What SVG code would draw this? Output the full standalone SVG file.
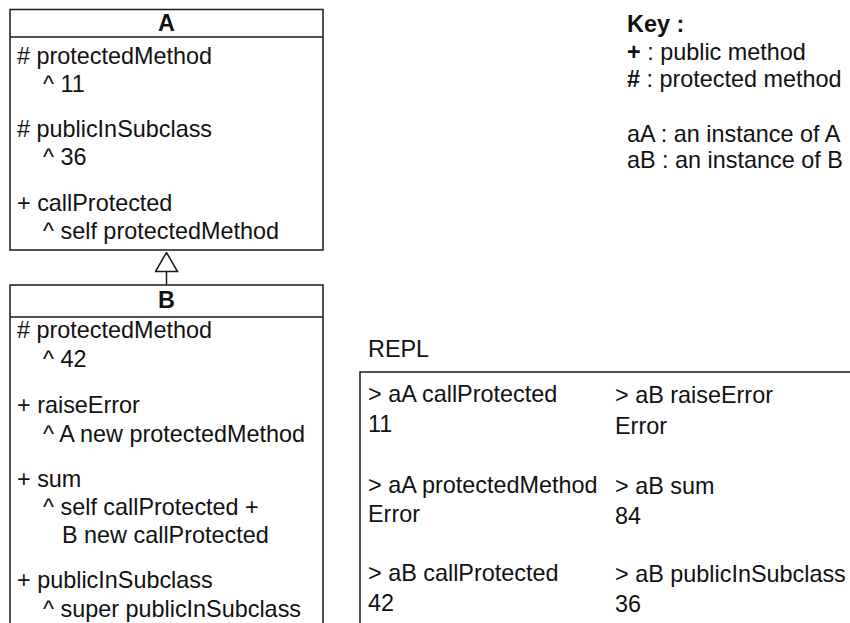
<svg xmlns="http://www.w3.org/2000/svg" width="850" height="623" viewBox="0 0 850 623">
<style>
text{font-family:"Liberation Sans",Arial,sans-serif;font-size:23.4px;fill:#111}
.b{font-weight:bold}
.box{fill:#fff;stroke:#1a1a1a;stroke-width:1.5}
.ln{stroke:#1a1a1a;stroke-width:1.5;fill:none}
</style>
<defs>
<marker id="tri" markerUnits="userSpaceOnUse" viewBox="-1 -1 21 24" refX="19" refY="11" markerWidth="21" markerHeight="24" orient="auto">
<path d="M0,0 L19,11 L0,22 Z" fill="#fff" stroke="#1a1a1a" stroke-width="1.5"/>
</marker>
</defs>
<rect width="850" height="623" fill="#fff"/>
<g id="classA">
<rect class="box" x="10" y="9.5" width="313" height="240.5"/>
<line class="ln" x1="10" y1="37" x2="323" y2="37"/>
<text class="b" x="166.5" y="30.5" text-anchor="middle">A</text>
<text x="17" y="64"># protectedMethod</text>
<text x="43" y="92">^ 11</text>
<text x="17" y="137"># publicInSubclass</text>
<text x="43" y="165">^ 36</text>
<text x="17" y="211">+ callProtected</text>
<text x="43" y="239">^ self protectedMethod</text>
</g>
<g id="classB">
<rect class="box" x="10" y="285" width="313" height="350"/>
<line class="ln" x1="10" y1="317" x2="323" y2="317"/>
<text class="b" x="166.5" y="307.5" text-anchor="middle">B</text>
<text x="17" y="338"># protectedMethod</text>
<text x="43" y="367">^ 42</text>
<text x="17" y="413">+ raiseError</text>
<text x="43" y="442">^ A new protectedMethod</text>
<text x="17" y="487">+ sum</text>
<text x="43" y="515">^ self callProtected +</text>
<text x="62" y="543">B new callProtected</text>
<text x="17" y="588">+ publicInSubclass</text>
<text x="43" y="617">^ super publicInSubclass</text>
</g>
<g id="connectors">
<path class="ln" d="M166.5,285 L166.5,252.5" marker-end="url(#tri)"/>
</g>
<g id="key">
<text class="b" x="627" y="31.5">Key :</text>
<text x="627" y="59.5"><tspan class="b">+</tspan> : public method</text>
<text x="627" y="87"><tspan class="b">#</tspan> : protected method</text>
<text x="627" y="142">aA : an instance of A</text>
<text x="627" y="168">aB : an instance of B</text>
</g>
<g id="repl">
<text x="368" y="357">REPL</text>
<rect class="box" x="360" y="372" width="500" height="270"/>
<text x="368" y="402">&gt; aA callProtected</text>
<text x="368" y="432">11</text>
<text x="615" y="403">&gt; aB raiseError</text>
<text x="615" y="434">Error</text>
<text x="368" y="493">&gt; aA protectedMethod</text>
<text x="368" y="522">Error</text>
<text x="615" y="494">&gt; aB sum</text>
<text x="615" y="524">84</text>
<text x="368" y="581">&gt; aB callProtected</text>
<text x="368" y="611">42</text>
<text x="615" y="582">&gt; aB publicInSubclass</text>
<text x="615" y="612">36</text>
</g>
</svg>
